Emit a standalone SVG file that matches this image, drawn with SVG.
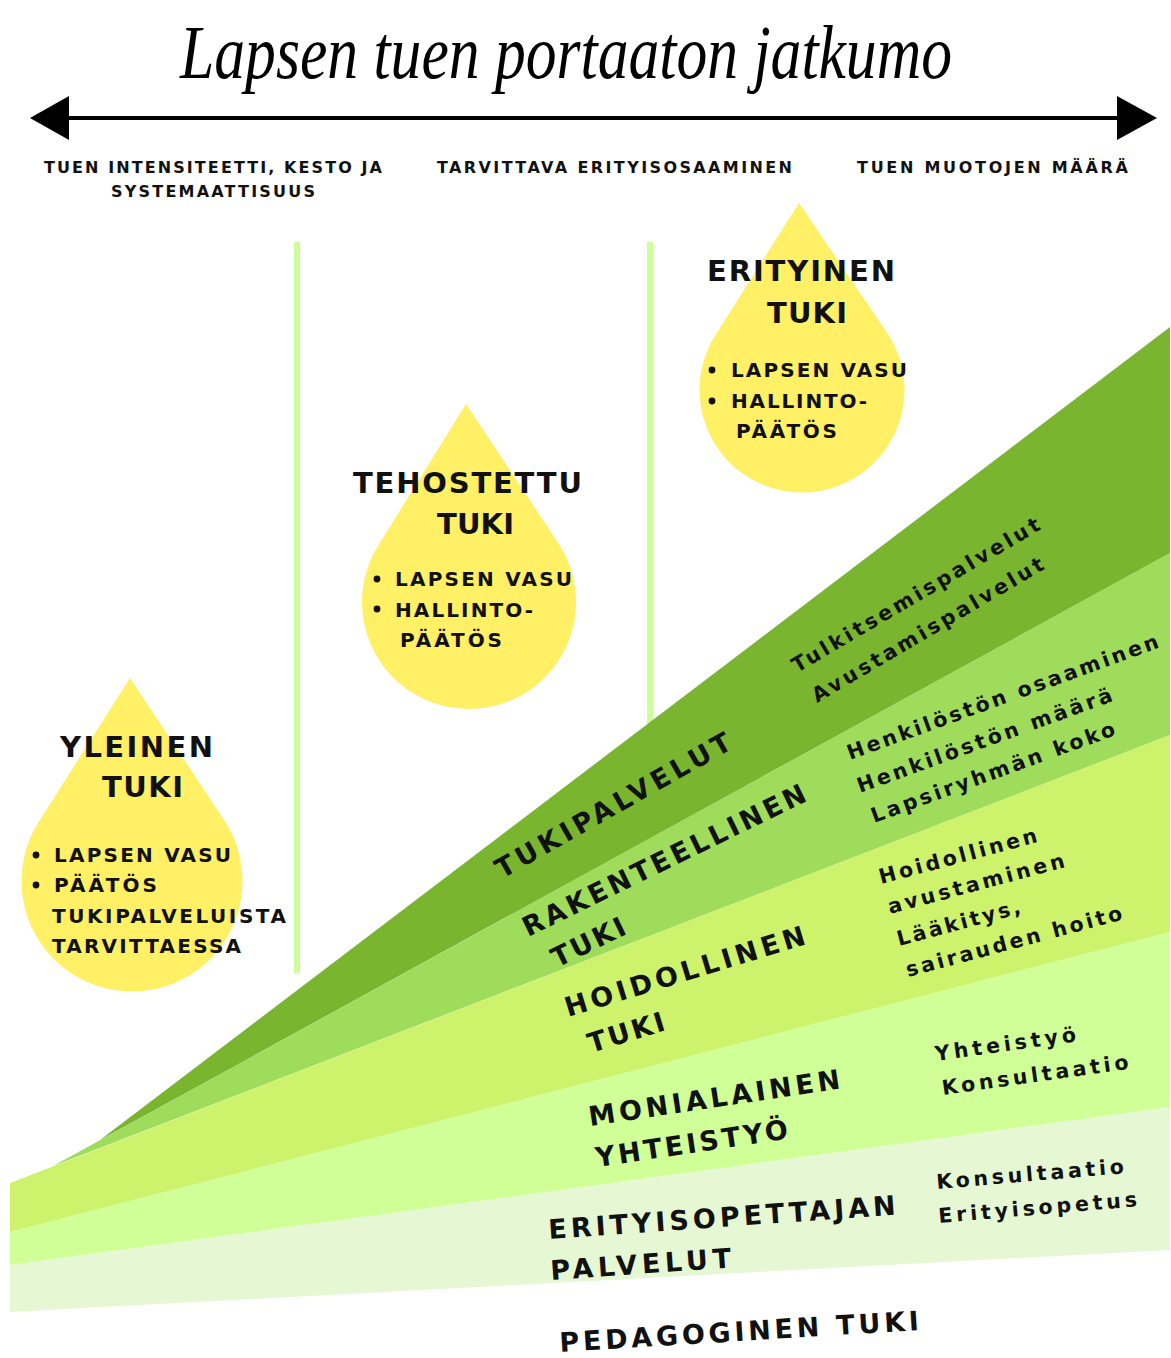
<svg xmlns="http://www.w3.org/2000/svg" width="1171" height="1358" viewBox="0 0 1171 1358">
<style>
.title{font-family:"Liberation Serif","DejaVu Serif",serif;font-style:italic;font-size:76px;fill:#000}
.sub{font-family:"DejaVu Sans",sans-serif;font-weight:bold;font-size:16px;fill:#111}
.dh{font-family:"DejaVu Sans",sans-serif;font-weight:bold;font-size:29px;fill:#111}
.db{font-family:"DejaVu Sans",sans-serif;font-weight:bold;font-size:20px;fill:#111}
.bl{font-family:"DejaVu Sans",sans-serif;font-weight:bold;font-size:27px;fill:#111}
.rl{font-family:"DejaVu Sans",sans-serif;font-weight:bold;font-size:20.5px;fill:#111}
.drop{fill:#FFF066}
.vl{fill:#CCFF99}
</style>
<rect width="1171" height="1358" fill="#fff"/>
<g id="title"><text class="title" x="180" y="78" textLength="772" lengthAdjust="spacingAndGlyphs">Lapsen tuen portaaton jatkumo</text></g>
<g id="connectors">
<line x1="66" y1="118" x2="1119" y2="118" stroke="#000" stroke-width="4"/>
<polygon points="30,118 69,96 69,140" fill="#000"/>
<polygon points="1157,118 1117,96 1117,140" fill="#000"/>
</g>
<g id="axis-labels">
<text class="sub" x="44" y="173" textLength="338">TUEN INTENSITEETTI, KESTO JA</text>
<text class="sub" x="111" y="197" textLength="204">SYSTEMAATTISUUS</text>
<text class="sub" x="437" y="173" textLength="355">TARVITTAVA ERITYISOSAAMINEN</text>
<text class="sub" x="857" y="173" textLength="271">TUEN MUOTOJEN MÄÄRÄ</text>
</g>
<g id="dividers">
<rect class="vl" x="294" y="242" width="6" height="731"/>
<rect class="vl" x="647" y="242" width="6" height="490"/>
</g>
<g id="drop-yleinen">
<path class="drop" d="M130,678 L224.7,820.9 A110.5,110.5 0 1 1 39.3,820.9 Z"/>
<text class="dh" x="60" y="757" textLength="153">YLEINEN</text>
<text class="dh" x="102" y="797" textLength="81">TUKI</text>
<circle cx="36" cy="855" r="3.4" fill="#111"/>
<circle cx="36" cy="885" r="3.4" fill="#111"/>
<text class="db" x="54" y="862" textLength="177">LAPSEN VASU</text>
<text class="db" x="54" y="892" textLength="103">PÄÄTÖS</text>
<text class="db" x="52" y="923" textLength="234">TUKIPALVELUISTA</text>
<text class="db" x="52" y="953" textLength="189">TARVITTAESSA</text>
</g>
<g id="drop-tehostettu">
<path class="drop" d="M466,404 L559,544.2 A107,107 0 1 1 379,544.2 Z"/>
<text class="dh" x="353" y="493" textLength="229">TEHOSTETTU</text>
<text class="dh" x="437" y="534" textLength="77">TUKI</text>
<circle cx="377" cy="579" r="3.4" fill="#111"/>
<circle cx="377" cy="609" r="3.4" fill="#111"/>
<text class="db" x="395" y="586" textLength="177">LAPSEN VASU</text>
<text class="db" x="395" y="617" textLength="138">HALLINTO-</text>
<text class="db" x="400" y="647" textLength="102">PÄÄTÖS</text>
</g>
<g id="drop-erityinen">
<path class="drop" d="M799,203 L887.7,333.8 A102.5,102.5 0 1 1 716.3,333.8 Z"/>
<text class="dh" x="707" y="281" textLength="188">ERITYINEN</text>
<text class="dh" x="767" y="323" textLength="80">TUKI</text>
<circle cx="712" cy="370" r="3.4" fill="#111"/>
<circle cx="712" cy="401" r="3.4" fill="#111"/>
<text class="db" x="731" y="377" textLength="176">LAPSEN VASU</text>
<text class="db" x="731" y="408" textLength="136">HALLINTO-</text>
<text class="db" x="736" y="438" textLength="101">PÄÄTÖS</text>
</g>
<g id="bands">
<polygon id="band-pedagoginen" points="10,1265 1170,1107 1170,1250 10,1312" fill="#E6F7D4"/>
<polygon id="band-monialainen" points="10,1232 1170,932 1170,1107 10,1265" fill="#CFFF96"/>
<polygon id="band-hoidollinen" points="10,1183 1170,735 1170,932 10,1232" fill="#CDF36D"/>
<polygon id="band-rakenteellinen" points="53,1166 1170,553 1170,735" fill="#A0DC5B"/>
<polygon id="band-tukipalvelut" points="100,1140 1170,327 1170,553" fill="#7AB530"/>
</g>
<g id="band-labels">
<text class="bl" transform="translate(502,879) rotate(-29.5)" textLength="266">TUKIPALVELUT</text>
<text class="bl" transform="translate(528,937) rotate(-26)" textLength="312">RAKENTEELLINEN</text>
<text class="bl" transform="translate(557,968) rotate(-26)" textLength="79">TUKI</text>
<text class="bl" transform="translate(568,1017) rotate(-17)" textLength="250">HOIDOLLINEN</text>
<text class="bl" transform="translate(591,1053) rotate(-17)" textLength="79">TUKI</text>
<text class="bl" transform="translate(590,1126) rotate(-8.5)" textLength="254">MONIALAINEN</text>
<text class="bl" transform="translate(597,1167) rotate(-8.5)" textLength="194">YHTEISTYÖ</text>
<text class="bl" transform="translate(549,1239) rotate(-4)" textLength="348">ERITYISOPETTAJAN</text>
<text class="bl" transform="translate(551,1280) rotate(-4)" textLength="181">PALVELUT</text>
<text class="bl" transform="translate(560,1352) rotate(-3.5)" textLength="360">PEDAGOGINEN TUKI</text>
</g>
<g id="service-labels">
<text class="rl" transform="translate(797,673) rotate(-30.5)" textLength="284">Tulkitsemispalvelut</text>
<text class="rl" transform="translate(817,703) rotate(-30.5)" textLength="265">Avustamispalvelut</text>
<text class="rl" transform="translate(850,760) rotate(-20)" textLength="330">Henkilöstön osaaminen</text>
<text class="rl" transform="translate(860,793) rotate(-20)" textLength="270">Henkilöstön määrä</text>
<text class="rl" transform="translate(874,823) rotate(-20)" textLength="258">Lapsiryhmän koko</text>
<text class="rl" transform="translate(881,884) rotate(-15)" textLength="163">Hoidollinen</text>
<text class="rl" transform="translate(890,914) rotate(-15)" textLength="182">avustaminen</text>
<text class="rl" transform="translate(899,946) rotate(-15)" textLength="127">Lääkitys,</text>
<text class="rl" transform="translate(908,977) rotate(-15)" textLength="223">sairauden hoito</text>
<text class="rl" transform="translate(936,1061) rotate(-8)" textLength="142">Yhteistyö</text>
<text class="rl" transform="translate(943,1095) rotate(-8)" textLength="188">Konsultaatio</text>
<text class="rl" transform="translate(937,1189) rotate(-4.8)" textLength="188">Konsultaatio</text>
<text class="rl" transform="translate(939,1223) rotate(-4.8)" textLength="199">Erityisopetus</text>
</g>
</svg>
